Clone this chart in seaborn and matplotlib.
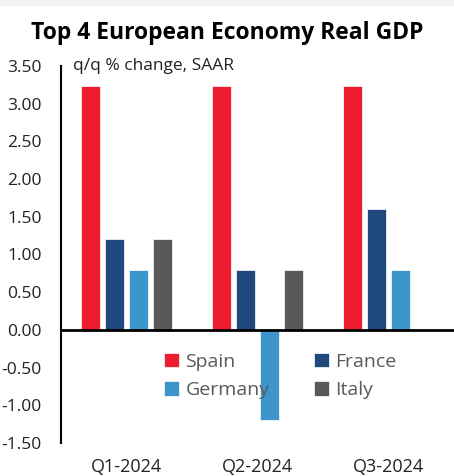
import pandas as pd
import matplotlib.pyplot as plt
import matplotlib.transforms as mtransforms
from matplotlib.patches import Rectangle
import seaborn as sns

# ========= DADOS ==========
quarters = ["Q1-2024", "Q2-2024", "Q3-2024"]
countries = ["Spain", "France", "Germany", "Italy"]
spain = [3.24, 3.24, 3.24]
france = [1.2, 0.8, 1.6]
germany = [0.8, -1.2, 0.8]
italy = [1.2, 0.8, None]
colors = ["#ED1C2E", "#1F497D", "#3C96CB", "#595959"]

rows = []
for name, vals in zip(countries, [spain, france, germany, italy]):
    for q, v in zip(quarters, vals):
        if v is not None:
            rows.append({"quarter": q, "country": name, "value": v})
df = pd.DataFrame(rows)

# ========= ESTILO ==========
sns.set_style("white")
plt.rcParams["font.family"] = ["Open Sans", "DejaVu Sans"]

fig = plt.figure(figsize=(4.54, 4.76), dpi=100)
ax = fig.add_axes([61 / 454, 33 / 476, 393 / 454, 377 / 476])

sns.barplot(data=df, x="quarter", y="value", hue="country", order=quarters,
            hue_order=countries, palette=colors, saturation=1, width=0.73, gap=0.2,
            edgecolor="white", linewidth=0.5, ax=ax)

ax.set_ylim(-1.5, 3.5)
ax.set_xlim(-0.5, 2.5)
ax.set_yticks([-1.5, -1.0, -0.5, 0, 0.5, 1.0, 1.5, 2.0, 2.5, 3.0, 3.5])
ax.set_yticklabels([f"{t:.2f}" for t in ax.get_yticks()], fontsize=12.5, color="#222222")
ax.set_xlabel("")
ax.set_ylabel("")

for s in ["top", "right"]:
    ax.spines[s].set_visible(False)
ax.spines["left"].set_linewidth(1.5)
ax.spines["left"].set_color("black")
ax.spines["bottom"].set_position(("data", 0))
ax.spines["bottom"].set_linewidth(2)
ax.spines["bottom"].set_color("black")

ax.tick_params(axis="y", direction="out", length=5, width=1.3, color="black", pad=9)
ax.set_xticks([0.5, 1.5], minor=True)
ax.tick_params(axis="x", which="major", length=0, pad=92, labelsize=13, labelcolor="#222222")
ax.tick_params(axis="x", which="minor", direction="out", length=5, width=1.3, color="black")

trans = mtransforms.blended_transform_factory(ax.transAxes, ax.transData)
ax.text(0.03, 3.5, "q/q % change, SAAR", transform=trans, va="center", ha="left",
        fontsize=12.5, color="#222222")

# legenda: Spain/France na primeira linha, Germany/Italy na segunda
handles, labels = ax.get_legend_handles_labels()
order = [0, 2, 1, 3]
ax.legend([handles[i] for i in order], [labels[i] for i in order], ncol=2,
          loc="upper left", bbox_to_anchor=(0.262, -0.3), bbox_transform=trans,
          frameon=False, fontsize=14, labelcolor="#595959", handlelength=0.75,
          handleheight=0.75, handletextpad=0.35, columnspacing=2.3, labelspacing=0.55,
          borderaxespad=0, borderpad=0)

fig.text(0.5, 0.93, "Top 4 European Economy Real GDP", ha="center", va="center",
         fontsize=16.5, fontweight="bold", color="black")

fig.add_artist(Rectangle((0, 1 - 6 / 476), 1, 6 / 476, transform=fig.transFigure,
                         facecolor="#F0F1F0", edgecolor="none"))

plt.savefig("out.png", dpi=100)
